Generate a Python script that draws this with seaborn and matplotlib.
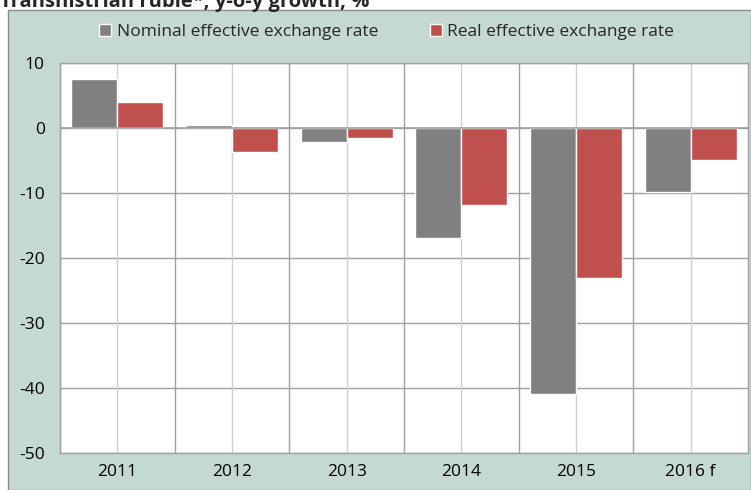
import pandas as pd
import matplotlib.pyplot as plt
import matplotlib.patches as mpatches
import seaborn as sns

# Chart data
years = ['2011', '2012', '2013', '2014', '2015', '2016 f']
nominal = [7.6, 0.5, -2.1, -16.9, -40.9, -9.8]
real = [4.0, -3.7, -1.5, -11.8, -23.1, -4.9]
series_names = ['Nominal effective exchange rate', 'Real effective exchange rate']

df = pd.DataFrame({
    'year': years * 2,
    'value': nominal + real,
    'series': [series_names[0]] * len(years) + [series_names[1]] * len(years),
})

sns.set_style('white')
plt.rcParams['font.family'] = ['Open Sans', 'DejaVu Sans']
plt.rcParams['axes.unicode_minus'] = False

fig = plt.figure(figsize=(7.51, 4.90), dpi=100)
fig.patch.set_facecolor('white')

# green panel behind the chart
panel = mpatches.Rectangle((8 / 751, 0), 1 - 8 / 751, 1 - 10 / 490,
                           transform=fig.transFigure, facecolor='#c5d9d3',
                           edgecolor='#8a8a8a', linewidth=1.0, zorder=-10)
fig.patches.append(panel)

ax = fig.add_axes([60 / 751, 37 / 490, 688 / 751, 390 / 490])
ax.set_zorder(1)
ax.set_facecolor('white')

sns.barplot(data=df, x='year', y='value', hue='series', ax=ax,
            palette=['#808080', '#c0504d'], width=0.8, gap=0,
            saturation=1, errorbar=None, zorder=3)

ax.set_ylim(-50, 10)
ax.set_yticks(range(-50, 11, 10))
ax.set_xlim(-0.5, len(years) - 0.5)
ax.set_xlabel('')
ax.set_ylabel('')

# grid: horizontal every 10, vertical at category boundaries and centres
for y in range(-50, 11, 10):
    ax.axhline(y, color='#a0a0a0', linewidth=1.0, zorder=1)
for i in range(len(years)):
    ax.axvline(i - 0.5, color='#a0a0a0', linewidth=1.0, zorder=1)
    ax.axvline(i, color='#d0d0d0', linewidth=1.0, zorder=1)
ax.axhline(0, color='#a0a0a0', linewidth=1.2, zorder=4)

for s in ax.spines.values():
    s.set_color('#a0a0a0')
    s.set_linewidth(1.0)

ax.tick_params(axis='both', length=0, labelsize=12.5, colors='black', pad=8)
ax.tick_params(axis='y', pad=11)

leg = ax.legend(loc='upper center', bbox_to_anchor=(0.475, 1.14), ncol=2,
                frameon=False, fontsize=12.5, handlelength=0.7, handleheight=0.7,
                handletextpad=0.3, columnspacing=3.0)

fig.text(0.0, 1.0 - 7 / 490, 'Transnistrian ruble*, y-o-y growth, %',
         fontsize=14.5, fontweight='bold', ha='left', va='baseline')

fig.savefig('out.png', dpi=100)
